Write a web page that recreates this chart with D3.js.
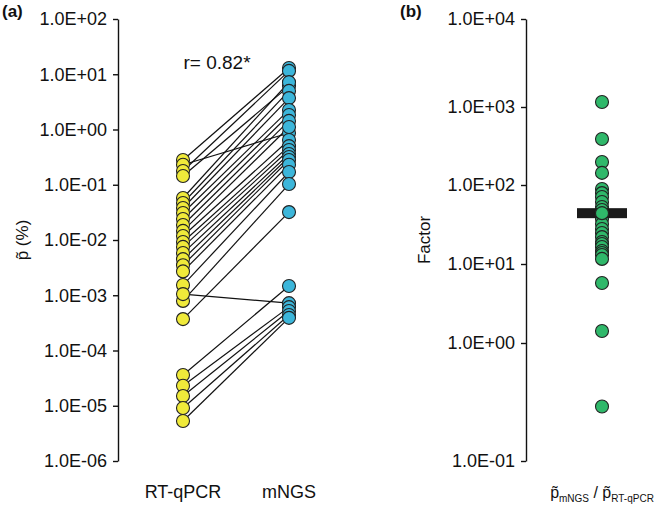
<!DOCTYPE html>
<html><head><meta charset="utf-8">
<script src="https://cdn.jsdelivr.net/npm/d3@7"></script>
<style>body{margin:0;background:#fff}svg{display:block;font-family:"Liberation Sans",Arial,sans-serif}</style>
</head><body><svg id="c" width="657" height="507"></svg>
<script>
// Panel (a): paired values (%)
const groups = ["RT-qPCR", "mNGS"];
const rtqpcr = [0.28,0.23,0.177,0.144,0.0575,0.0468,0.0379,0.0308,0.024,0.0187,0.0146,0.0118,0.0092,0.0075,0.0058,0.0045,0.0035,0.0027,0.00153,0.00079,0.00037,0.00105,3.6e-5,2.3e-5,1.5e-5,9.1e-6,5.3e-6];
const mngs   = [13.0,0.865,11.5,6.1,7.2,5.0,3.7,2.26,1.83,1.43,1.11,0.646,0.50,0.425,0.36,0.318,0.28,0.23,0.17,0.103,0.032,0.00072,0.00147,0.00061,0.00052,0.00044,0.00039];
const tickValuesA = [1e2,1e1,1e0,1e-1,1e-2,1e-3,1e-4,1e-5,1e-6];
const tickLabelsA = ["1.0E+02","1.0E+01","1.0E+00","1.0E-01","1.0E-02","1.0E-03","1.0E-04","1.0E-05","1.0E-06"];
const corrLabel = "r= 0.82*";
// Panel (b): ratio factor
const factor = [1140,389,197,143,89,79,70.5,61,52.6,48.2,40.5,37.1,32.1,27.7,24.7,21.9,19.0,17.9,16.4,14.6,13.8,13.0,11.6,5.75,1.42,0.29];
const factorMean = 44;
const tickValuesB = [1e4,1e3,1e2,1e1,1e0,1e-1];
const tickLabelsB = ["1.0E+04","1.0E+03","1.0E+02","1.0E+01","1.0E+00","1.0E-01"];

const svg = d3.select("#c");
const plotTop = 19, plotBottom = 461;

function styleAxis(g){
  g.selectAll("text").attr("font-size",18).attr("fill","#111").attr("font-family","Liberation Sans, Arial, sans-serif");
  g.selectAll("line,path").attr("stroke","#111").attr("stroke-width",1.4);
}

// ---------- Panel (a)
const yA = d3.scaleLog().domain([1e-6, 1e2]).range([plotBottom, plotTop]);
const xA = d3.scalePoint().domain(groups).range([183, 289]);
const gA = svg.append("g");
const axA = d3.axisLeft(yA).tickValues(tickValuesA).tickFormat((d,i)=>tickLabelsA[i]).tickSize(5).tickSizeOuter(0).tickPadding(6);
gA.append("g").attr("transform","translate(118,0)").call(axA).call(styleAxis);
gA.selectAll("line.pair").data(rtqpcr).enter().append("line").attr("class","pair")
  .attr("x1",xA(groups[0])).attr("y1",d=>yA(d))
  .attr("x2",xA(groups[1])).attr("y2",(d,i)=>yA(mngs[i]))
  .attr("stroke","#111").attr("stroke-width",1.2);
gA.selectAll("circle.y").data(rtqpcr).enter().append("circle").attr("class","y")
  .attr("cx",xA(groups[0])).attr("cy",d=>yA(d)).attr("r",6.5)
  .attr("fill","#f0ea3a").attr("stroke","#222").attr("stroke-width",1.1);
gA.selectAll("circle.b").data(mngs).enter().append("circle").attr("class","b")
  .attr("cx",xA(groups[1])).attr("cy",d=>yA(d)).attr("r",6.5)
  .attr("fill","#3cb6da").attr("stroke","#222").attr("stroke-width",1.1);
gA.selectAll("text.xl").data(groups).enter().append("text").attr("class","xl")
  .attr("x",d=>xA(d)).attr("y",498).attr("text-anchor","middle").attr("font-size",18).attr("fill","#111").text(d=>d);
gA.append("text").attr("x",217).attr("y",69).attr("text-anchor","middle").attr("font-size",19).attr("fill","#111").text(corrLabel);
gA.append("text").attr("transform","translate(28,240) rotate(-90)").attr("text-anchor","middle").attr("font-size",17).attr("fill","#111").text("p\u0303 (%)");
svg.append("text").attr("x",2).attr("y",17).attr("font-size",17).attr("font-weight","bold").attr("fill","#111").text("(a)");

// ---------- Panel (b)  (tick positions follow the reference's label placement)
const yB = d3.scaleLog().domain([1e-1, 1e0, 1e1, 1e2, 1e3, 1e4]).range([plotBottom, 343, 264, 185, 107, plotTop]);
const xB = 602;
const gB = svg.append("g");
const axB = d3.axisLeft(yB).tickValues(tickValuesB).tickFormat((d,i)=>tickLabelsB[i]).tickSize(5).tickSizeOuter(0).tickPadding(6);
gB.append("g").attr("transform","translate(526,0)").call(axB).call(styleAxis);
gB.selectAll("circle.g").data(factor).enter().append("circle").attr("class","g")
  .attr("cx",xB).attr("cy",d=>yB(d)).attr("r",6.5)
  .attr("fill","#2fb86a").attr("stroke","#222").attr("stroke-width",1.1);
gB.append("rect").attr("x",xB-25).attr("y",yB(factorMean)-5).attr("width",50).attr("height",10).attr("fill","#1a1a1a");
gB.selectAll("circle.g2").data([factorMean]).enter().append("circle")
  .attr("cx",xB).attr("cy",d=>yB(d)).attr("r",6.5)
  .attr("fill","#2fb86a").attr("stroke","#222").attr("stroke-width",1.1);
gB.append("text").attr("transform","translate(430,240) rotate(-90)").attr("text-anchor","middle").attr("font-size",17).attr("fill","#111").text("Factor");
const xl = gB.append("text").attr("x",xB).attr("y",498).attr("text-anchor","middle").attr("font-size",16).attr("fill","#111");
xl.append("tspan").text("p\u0303");
xl.append("tspan").attr("font-size",10).attr("dy",4).text("mNGS");
xl.append("tspan").attr("dy",-4).text(" / p\u0303");
xl.append("tspan").attr("font-size",10).attr("dy",4).text("RT-qPCR");
svg.append("text").attr("x",400).attr("y",17).attr("font-size",17).attr("font-weight","bold").attr("fill","#111").text("(b)");
</script></body></html>
